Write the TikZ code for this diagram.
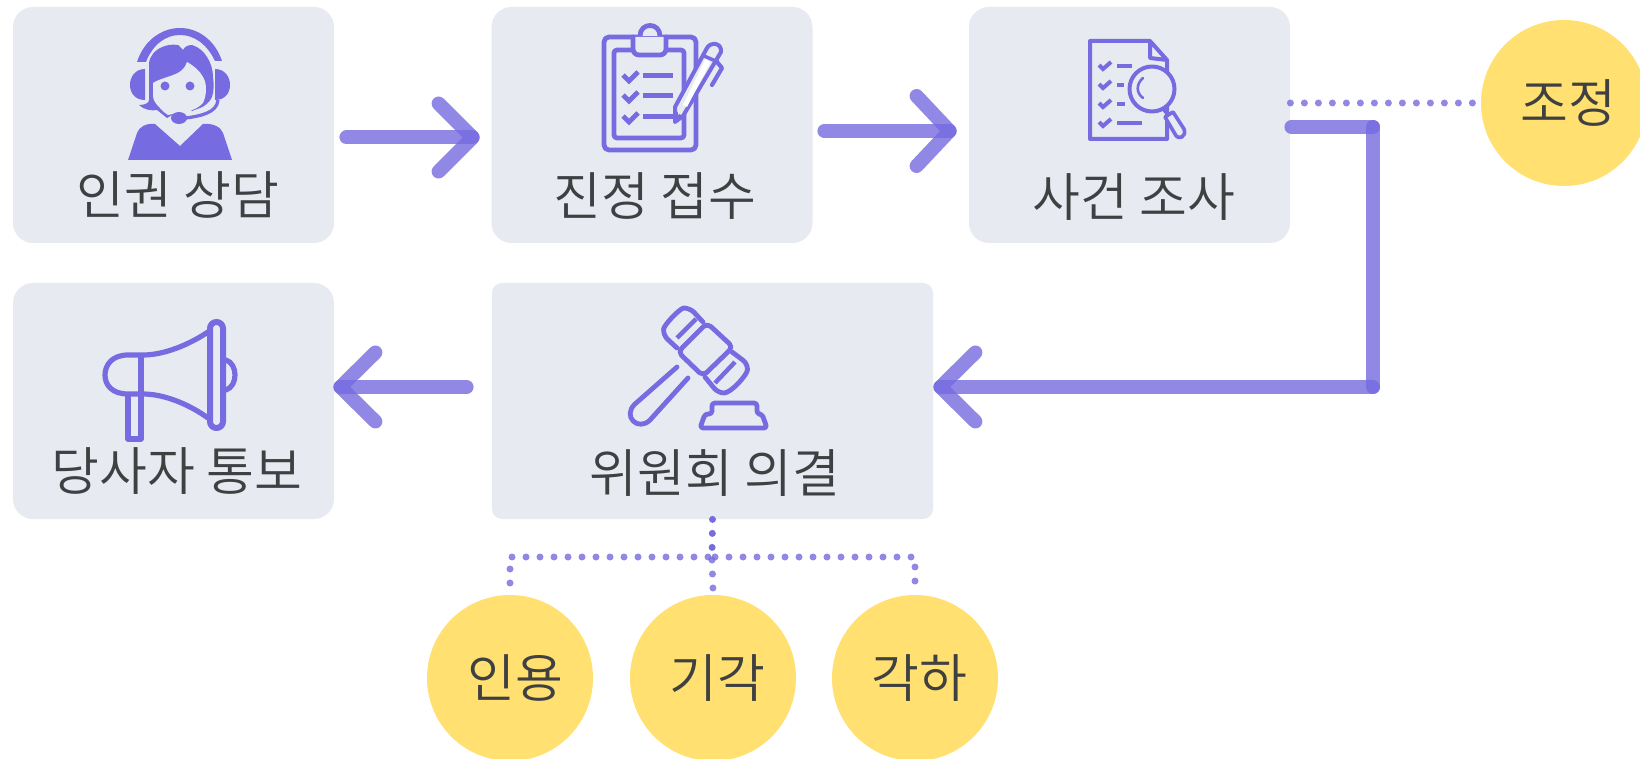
\documentclass[tikz,border=0pt]{standalone}
\usepackage{fontspec}
\setmainfont{Noto Sans CJK KR DemiLight}
\definecolor{boxc}{HTML}{E7EAF0}
\definecolor{txt}{HTML}{3F4042}
\definecolor{yel}{HTML}{FFE070}
\definecolor{ic}{HTML}{766BE0}
\tikzset{
  box/.style={fill=boxc,rounded corners=10pt,inner sep=0pt,minimum height=118pt,minimum width=160.5pt},
  lbl/.style={text=txt,font=\fontsize{26}{30}\selectfont,inner sep=0pt,anchor=center},
  res/.style={circle,fill=yel,text=txt,font=\fontsize{26}{30}\selectfont,inner sep=0pt,minimum size=83pt},
  flow/.style={draw=ic,draw opacity=.8,line width=7pt,line cap=round,line join=round},
  dots/.style={draw=ic,draw opacity=.8,line width=3.5pt,line cap=round,dash pattern=on 0pt off 7pt},
  dotsdark/.style={draw=ic,line width=3.5pt,line cap=round,dash pattern=on 0pt off 7pt},
  iconline/.style={draw=ic,line width=2.4pt,line join=round,line cap=round},
  iconfill/.style={fill=ic},
}
\begin{document}
\begin{tikzpicture}[x=0.5pt,y=-0.5pt]
\path[clip,use as bounding box] (0,0) rectangle (1640,759);
\fill[white] (0,0) rectangle (1640,759);
% boxes
\node[box] (b1) at (173.5,125) {};
\node[box] (b2) at (652,125) {};
\node[box] (b3) at (1129.5,125) {};
\node[box] (b4) at (173.5,401) {};
\node[box,rounded corners=5pt,minimum width=220.5pt] (b5) at (712.5,401) {};
% result circles
\node[res] (rz) at (1564,103) {\hspace*{4pt}\raisebox{-1pt}{조정}};
\node[res] (ra) at (510,678) {\hspace*{5pt}\raisebox{-1.5pt}{인용}};
\node[res] (rb) at (713,678) {\hspace*{4pt}\raisebox{-1.5pt}{기각}};
\node[res] (rc) at (915,678) {\hspace*{4pt}\raisebox{-1.5pt}{각하}};
% main arrows
\coordinate (t1) at ([shift={(-18.5,12.5)}]b2.west);
\draw[flow] ([shift={(12,12.5)}]b1.east) -- (t1);
\draw[flow] ([shift={(-34,-34)}]t1) -- (t1) -- ([shift={(-34,34)}]t1);
\coordinate (t2) at ([shift={(-19,6)}]b3.west);
\draw[flow] ([shift={(11.5,6)}]b2.east) -- (t2);
\draw[flow] ([shift={(-33,-35)}]t2) -- (t2) -- ([shift={(-33,35)}]t2);
\coordinate (t3) at ([shift={(6,-14)}]b4.east);
\draw[flow] ([shift={(-25,-14)}]b5.west) -- (t3);
\draw[flow] ([shift={(35,-34.5)}]t3) -- (t3) -- ([shift={(35,34.5)}]t3);
% long connector
\coordinate (t4) at ([shift={(7,-14)}]b5.east);
\coordinate (cn) at (1373,387);
\coordinate (cu) at (1373,127);
\draw[flow] ([shift={(1,2)}]b3.east) -- (cu);
\draw[flow] (cu) -- (cn);
\draw[flow] (cn) -- (t4);
\draw[flow] ([shift={(35,-34.5)}]t4) -- (t4) -- ([shift={(35,34.5)}]t4);
% dotted
\draw[dots] ([shift={(0,-22)}]b3.east) -- ([shift={(-5,0)}]rz.west);
\coordinate (jt) at (712,557);
\draw[dotsdark] (b5.south) -- (jt);
\draw[dots] ([shift={(0,3)}]jt) -- ([shift={(0,-5)}]rb.north);
\draw[dots] ([shift={(-4,0)}]jt) -- (ra.north |- jt) -- ([shift={(0,-9)}]ra.north);
\draw[dots] ([shift={(3,0)}]jt) -- (rc.north |- jt) -- ([shift={(0,-9)}]rc.north);

% labels
\node[lbl] (l1) at (178,195) {인권 상담};
\node[lbl] (l2) at (655,196) {진정 접수};
\node[lbl] (l3) at (1134,197) {사건 조사};
\node[lbl] (l4) at (177,471) {당사자 통보};
\node[lbl] (l5) at (715,473) {위원회 의결};

% ---- icon 1: agent
\fill[iconfill] (137,62) .. controls (144,40) and (162,28) .. (180,28) .. controls (198,28) and (215,40) .. (222,61) -- (215,61) .. controls (207,44) and (194,35) .. (180,35) .. controls (166,35) and (153,44) .. (146,62) -- cycle;
\fill[iconfill] (145,69) .. controls (135,69) and (130,77) .. (130,85) .. controls (130,93) and (135,100) .. (145,100) -- cycle;
\fill[iconfill] (215,69) .. controls (225,69) and (230,77) .. (230,85) .. controls (230,93) and (225,100) .. (215,100) -- cycle;
\fill[iconfill] (149,63) .. controls (150,55) and (156,50) .. (160,48) .. controls (166,45) and (172,44) .. (178,45) -- (183,50) .. controls (185,46) and (189,45) .. (192,45) .. controls (199,47) and (204,52) .. (207,57) .. controls (211,63) and (213,70) .. (213,77) .. controls (214,84) and (214,91) .. (212,97) .. controls (209,103) and (205,106) .. (200,108) -- (192,111) -- (185,108) -- (167,118) -- (157,110) .. controls (152,111) and (144,110) .. (139,105) .. controls (145,105) and (149,103) .. (149,100) -- cycle;
\fill[boxc] (153,83) .. controls (160,78) and (176,76) .. (182,70) .. controls (185,67) and (186,65) .. (187,62) .. controls (194,66) and (200,71) .. (203,77) .. controls (207,83) and (207,95) .. (203,103) .. controls (200,106) and (196,109) .. (192,110) -- (190,112) -- (178,113) -- (168,115) .. controls (165,113) and (162,111) .. (160,108) .. controls (155,103) and (153,100) .. (153,95) -- cycle;
\fill[iconfill] (165,86) circle[radius=4.5];
\fill[iconfill] (190,86) circle[radius=4.5];
\fill[iconfill] (179,118) ellipse[x radius=8,y radius=6];
\draw[draw=ic,line width=1.6pt] (186,118) .. controls (200,116) and (217,113) .. (218,100);
\fill[iconfill] (128,160) -- (137,133) .. controls (139,127) and (146,123) .. (155,124) -- (180,146) -- (203,124) .. controls (213,123) and (221,127) .. (223,133) -- (232,160) -- cycle;

% ---- icon 2: clipboard
\draw[iconline,rounded corners=2.5pt] (604,37) rectangle (696,150);
\draw[iconline,rounded corners=1.5pt] (614,50) rectangle (684,138);
\draw[iconline,fill=boxc] (640,36) .. controls (640,22) and (660,22) .. (660,36);
\draw[iconline,fill=boxc,rounded corners=3pt] (633,37) -- (633,55) -- (666,55) -- (666,37);
\foreach \yy in {76,96,117}{
  \draw[draw=ic,line width=2.4pt,line join=miter,line cap=butt] (623,\yy-1) -- (629,\yy+5) -- (638,\yy-4);
  \draw[draw=ic,line width=2.5pt] (643,\yy) -- (673,\yy);
}
\draw[draw=boxc,line width=5pt,line cap=round] (680,104) -- (708,55);
\draw[iconline,line width=2pt,fill=boxc] (675,122) -- (675,107) -- (707,48) .. controls (710,42) and (722,42) .. (721,52) -- (683,116) -- cycle;
\fill[white] (683,105) -- (687,107) -- (710,63) -- (706,58) -- cycle;
\fill[iconfill] (675,122) -- (675,110) -- (682,116) -- cycle;
\fill[boxc] (678,115) -- (678,110) -- (681,112) -- cycle;
\draw[iconline,line width=1.75pt] (704,56) -- (718,62);
\draw[iconline,line width=2.1pt] (717,62) -- (722,68) -- (712,85);

% ---- icon 3: document search
\draw[iconline,line join=round,line width=2pt] (1150,41) -- (1090,41) -- (1090,139) -- (1167,139) -- (1167,60) -- (1150,41) -- (1150,58) -- (1167,60);
\foreach \yy/\xe in {66/1132,85/1124,104/1125,123/1142}{
  \draw[draw=ic,line width=2pt,line join=miter] (1099,\yy-1) -- (1103,\yy+3) -- (1111,\yy-4);
  \draw[draw=ic,line width=2pt] (1117,\yy) -- (\xe,\yy);
}
\draw[iconline,fill=boxc,line width=2pt] (1152,89) circle[radius=22.5];
\draw[draw=ic,line width=1.3pt,line cap=round] (1143,78) .. controls (1136,84) and (1136,93) .. (1143,98);
\draw[draw=ic,line width=1.5pt] (1162,108) -- (1167,114);
\draw[iconline,fill=boxc,line width=1.8pt] (1165,117) -- (1173,112) -- (1184,129) .. controls (1187,137) and (1178,141) .. (1175,134) -- cycle;

% ---- icon 4: megaphone
\draw[iconline,line width=3pt,rounded corners=3.2pt] (210,322) rectangle (223,428);
\draw[iconline,line width=2.6pt] (208,332) .. controls (190,344) and (165,355) .. (143,355) -- (128,355) .. controls (112,355) and (105,365) .. (105,375) .. controls (105,385) and (112,394) .. (128,394) -- (143,394) .. controls (165,394) and (190,405) .. (208,418);
\draw[iconline,line width=2.7pt,line cap=butt] (141,355) -- (141,439) -- (128,439) -- (128,394);
\draw[iconline,line width=2.6pt] (226,360) .. controls (238,364) and (238,386) .. (226,390);

% ---- icon 5: gavel
\draw[iconline,rounded corners=2.5pt] (707,323) -- (733,347) -- (703,376) -- (678,352) -- cycle;
\draw[iconline,rounded corners=3pt] (677,348) -- (663,335) .. controls (664,325) and (680,308) .. (690,308) -- (703,322);
\draw[iconline,line width=2.2pt,line cap=butt] (677,338) -- (696,319);
\draw[iconline,rounded corners=3pt] (732,352) -- (748,364) .. controls (747,375) and (731,393) .. (718,393) -- (705,377);
\draw[iconline,line width=2.2pt,line cap=butt] (715,383) -- (735,362);
\draw[iconline] (677,367) -- (635,404) .. controls (622,416) and (638,432) .. (650,420) -- (688,378);
\draw[iconline,rounded corners=1.5pt] (712,403) -- (757,403) -- (757,414) -- (762,414) -- (767,428) -- (700,428) -- (705,414) -- (712,414) -- cycle;
\end{tikzpicture}
\end{document}
